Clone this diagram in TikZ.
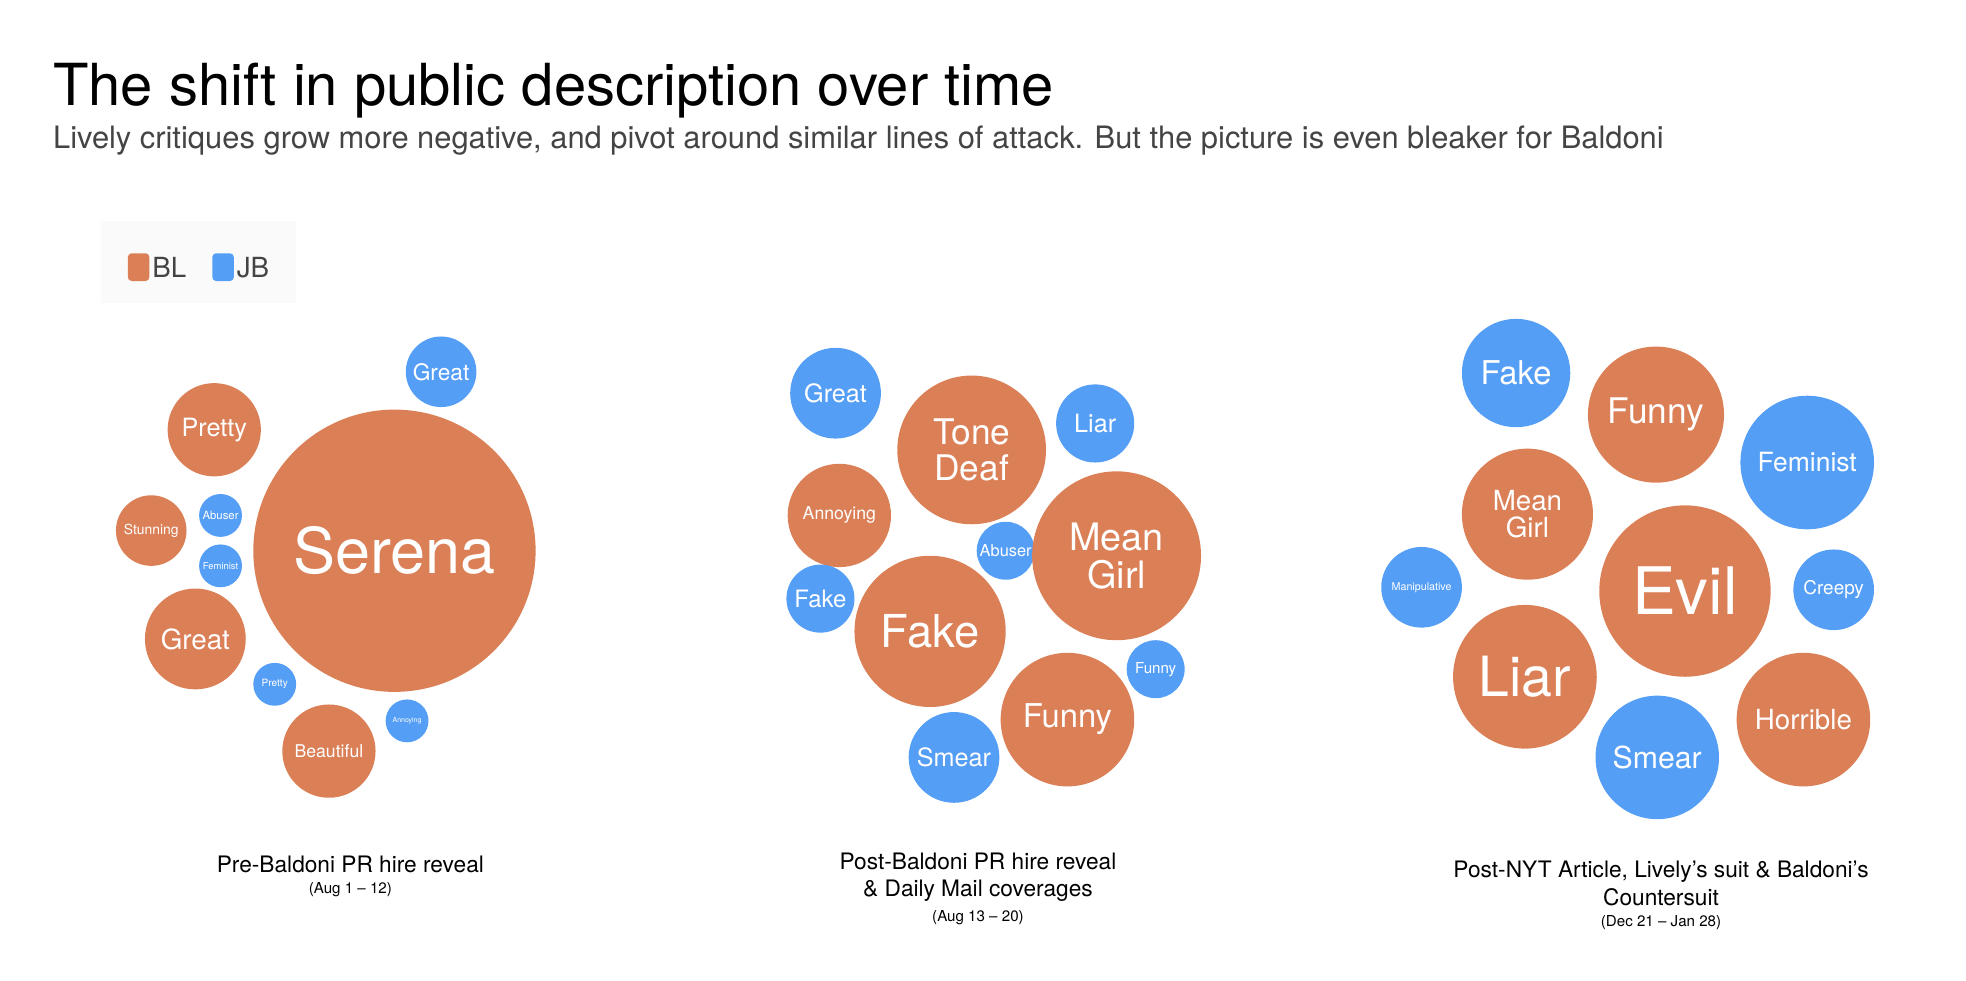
\documentclass[tikz,border=0pt]{standalone}
\usepackage{fontspec}
\setmainfont{TeX Gyre Heros}
\definecolor{bl}{HTML}{DB7F56}
\definecolor{jb}{HTML}{559EF5}
\definecolor{sub}{HTML}{444444}
\newcommand\bub[7]{\node[bubble,fill=#5,minimum size=#4*2pt,font=\fontsize{#6}{#6}\selectfont] (#1) at (#2,#3) {#7};}
\tikzset{bubble/.style={circle,inner sep=0pt,text=white,align=center},
  captext/.style={font=\fontsize{18}{22}\selectfont,align=center,text=black},
  dat/.style={font=\fontsize{12}{14}\selectfont,text=black}}
\begin{document}
\begin{tikzpicture}[x=1pt,y=-1pt]
\useasboundingbox (0,0) rectangle (1560,778);
\node[anchor=base west,font=\fontsize{46}{50}\selectfont,inner sep=0] (title) at (42,84) {The shift in public description over time};
\node[anchor=base west,font=\fontsize{24.5}{28}\selectfont,text=sub,inner sep=0] (subtitle) at (42,118) {Lively critiques grow more negative, and pivot around similar lines of attack. But the picture is even bleaker for Baldoni};
% legend
\node[fill=black!2,minimum width=155,minimum height=65,anchor=north west] (legbox) at (80,175) {};
\node[fill=bl,rounded corners=3pt,minimum width=17,minimum height=22,inner sep=0] (lbl) at (110,212) {};
\node[anchor=west,font=\fontsize{22}{24}\selectfont,text=sub,inner sep=2] (tbl) at (lbl.east) {BL};
\node[fill=jb,rounded corners=3pt,minimum width=17,minimum height=22,inner sep=0] (ljb) at (177,212) {};
\node[anchor=west,font=\fontsize{22}{24}\selectfont,text=sub,inner sep=2] (tjb) at (ljb.east) {JB};
% panel 1
\bub{a1}{313}{437}{112}{bl}{50}{Serena}
\bub{a2}{350}{295}{28}{jb}{18}{Great}
\bub{a3}{170}{341}{37}{bl}{20}{Pretty}
\bub{a4}{120}{421}{28}{bl}{11}{Stunning}
\bub{a5}{175}{409}{17}{jb}{9}{Abuser}
\bub{a6}{175}{449}{17}{jb}{7.5}{Feminist}
\bub{a7}{155}{507}{40}{bl}{22}{Great}
\bub{a8}{218}{543}{17}{jb}{8}{Pretty}
\bub{a9}{261}{596}{37}{bl}{14}{Beautiful}
\bub{a10}{323}{572}{17}{jb}{5.5}{Annoying}
\node[captext] (c1) at (278,686) {Pre-Baldoni PR hire reveal};
\node[dat] (d1) at (278,706) {(Aug 1 -- 12)};
% panel 2
\bub{b1}{663}{312}{36}{jb}{20}{Great}
\bub{b2}{771}{357}{59}{bl}{28}{Tone\\Deaf}
\bub{b3}{869}{336}{31}{jb}{20}{Liar}
\bub{b4}{666}{409}{41}{bl}{14}{Annoying}
\bub{b5}{798}{437}{23}{jb}{13}{Abuser}
\bub{b6}{886}{441}{67}{bl}{30}{Mean\\Girl}
\bub{b7}{651}{475}{27}{jb}{19}{Fake}
\bub{b8}{738}{501}{60}{bl}{36}{Fake}
\bub{b9}{917}{531}{23}{jb}{12}{Funny}
\bub{b10}{847}{571}{53}{bl}{26}{Funny}
\bub{b11}{757}{601}{36}{jb}{20}{Smear}
\node[captext] (c2) at (776,696) {Post-Baldoni PR hire reveal\\\& Daily Mail coverages};
\node[dat] (d2) at (776,728) {(Aug 13 -- 20)};
% panel 3
\bub{e1}{1203}{296}{43}{jb}{26}{Fake}
\bub{e2}{1314}{329}{54}{bl}{28}{Funny}
\bub{e3}{1434}{367}{53}{jb}{21}{Feminist}
\bub{e4}{1212}{408}{52}{bl}{22}{Mean\\Girl}
\bub{e5}{1128}{466}{32}{jb}{8.5}{Manipulative}
\bub{e6}{1337}{469}{68}{bl}{52}{Evil}
\bub{e7}{1455}{468}{32}{jb}{15}{Creepy}
\bub{e8}{1210}{537}{57}{bl}{44}{Liar}
\bub{e9}{1431}{571}{53}{bl}{22}{Horrible}
\bub{e10}{1315}{601}{49}{jb}{24}{Smear}
\node[captext] (c3) at (1318,701) {Post-NYT Article, Lively's suit \& Baldoni's\\Countersuit};
\node[dat] (d3) at (1318,732) {(Dec 21 -- Jan 28)};
\end{tikzpicture}
\end{document}
